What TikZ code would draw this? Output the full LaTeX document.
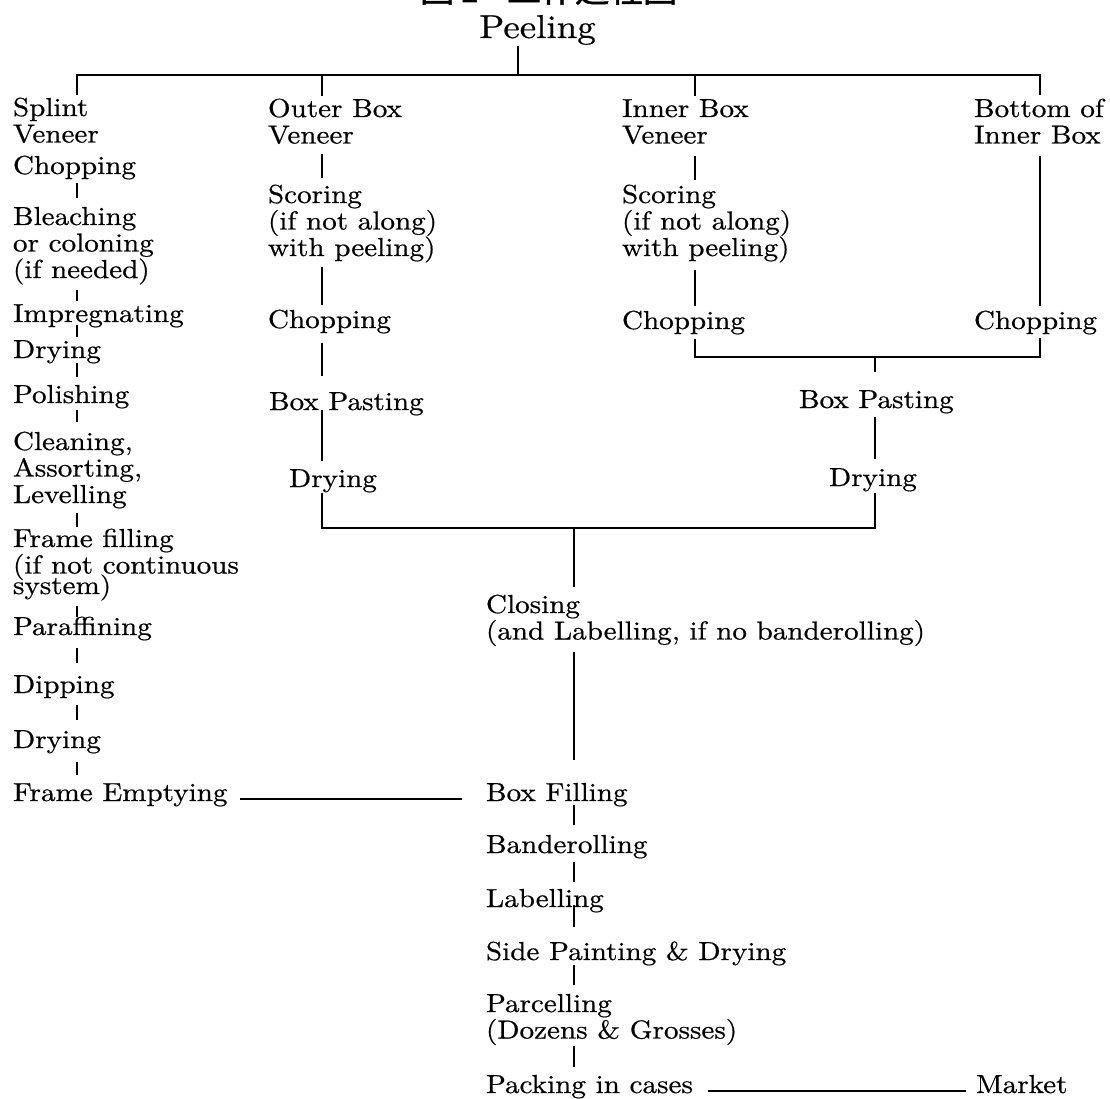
\documentclass[tikz,border=0pt]{standalone}
\usepackage{fontspec}
\setmainfont{lmroman10-regular.otf}[FakeStretch=1.12,FakeBold=0.6]
\newfontfamily\cjkfont{Noto Sans CJK TC}[FakeBold=1.5]
\newcommand{\myTwo}[2]{\vtop{\hbox{#1}\hbox{#2}}}
\newcommand{\myThree}[3]{\vtop{\hbox{#1}\hbox{#2}\hbox{#3}}}
\begin{document}
\begin{tikzpicture}[x=1pt,y=-1pt,
  lbl/.style={anchor=base west, inner sep=0pt, outer sep=0pt,
    font=\fontsize{26}{26.5}\selectfont},
  link/.style={line width=1.3pt, line cap=butt}]
\useasboundingbox (0,0) rectangle (1110,1099);
% x positions of vertical connectors and y positions of buses
\coordinate (lx) at (77,0);
\coordinate (ox) at (322,0);
\coordinate (ix) at (695,0);
\coordinate (bx) at (1040,0);
\coordinate (rx) at (875,0);
\coordinate (mx) at (574,0);
\coordinate (px) at (518,0);
\coordinate (bus1) at (0,75);
\coordinate (bus3) at (0,357);
\coordinate (bus2) at (0,528);
% title (cut off at top)
\node[anchor=base west, inner sep=0pt, font=\fontsize{34}{36}\cjkfont] (title) at (420,2) {圖\,1\;\,\, 工作過程圖};
\node[anchor=base west, inner sep=0pt, font=\fontsize{33}{36}\selectfont] (peel) at (479,38) {Peeling};
% left column
\node[lbl] (splint) at (13,116) {\myTwo{Splint}{Veneer}};
\node[lbl] (chopA) at (13,174) {Chopping};
\node[lbl] (bleach) at (13,225) {\myThree{Bleaching}{or coloning}{(if needed)}};
\node[lbl] (impreg) at (13,322) {Impregnating};
\node[lbl] (dryA) at (13,358) {Drying};
\node[lbl] (polish) at (13,403) {Polishing};
\node[lbl] (clean) at (13,450) {\myThree{Cleaning,}{Assorting,}{Levelling}};
\node[lbl] (frame) at (13,547) {\vtop{\hbox{Frame filling}\hbox{(if not continuous}\vskip-6pt\hbox{system)}}};
\node[lbl] (paraf) at (13,635) {Paraffining};
\node[lbl] (dip) at (13,693) {Dipping};
\node[lbl] (dryB) at (13,748) {Drying};
\node[lbl] (femp) at (13,801) {Frame Emptying};
% outer box column
\node[lbl] (outer) at (268,117) {\myTwo{Outer Box}{Veneer}};
\node[lbl] (scorA) at (268,203) {\myThree{Scoring}{(if not along)}{with peeling)}};
\node[lbl] (chopB) at (268,328) {Chopping};
\node[lbl] (pasteA) at (269,410) {Box Pasting};
\node[lbl] (dryC) at (289,487) {Drying};
% inner box column
\node[lbl] (inner) at (622,117) {\myTwo{Inner Box}{Veneer}};
\node[lbl] (scorB) at (622,203) {\myThree{Scoring}{(if not along)}{with peeling)}};
\node[lbl] (chopC) at (622,329) {Chopping};
\node[lbl] (bottom) at (974,117) {\myTwo{Bottom of}{Inner Box}};
\node[lbl] (chopD) at (974,329) {Chopping};
\node[lbl] (pasteB) at (799,408) {Box Pasting};
\node[lbl] (dryD) at (829,486) {Drying};
% middle column
\node[lbl] (closing) at (486,613) {\myTwo{Closing}{(and Labelling, if no banderolling)}};
\node[lbl] (boxfill) at (486,801) {Box Filling};
\node[lbl] (bander) at (486,853) {Banderolling};
\node[lbl] (label) at (486,907) {Labelling};
\node[lbl] (side) at (486,960) {Side Painting \& Drying};
\node[lbl] (parcel) at (486,1012) {\myTwo{Parcelling}{(Dozens \& Grosses)}};
\node[lbl] (pack) at (486,1093) {Packing in cases};
\node[lbl] (market) at (976,1093) {Market};
% top bus
\draw[link, shorten <=1pt] (peel.south -| px) -- (px |- bus1);
\draw[link, shorten <=3pt, shorten >=4pt] (splint.north -| lx) -- (lx |- bus1) -- (bx |- bus1) -- (bottom.north -| bx);
\draw[link, shorten >=3pt] (ox |- bus1) -- (outer.north -| ox);
\draw[link, shorten >=3pt] (ix |- bus1) -- (inner.north -| ix);
% left column ticks
\draw[link, shorten <=4pt, shorten >=9pt] (chopA.south -| lx) -- (bleach.north -| lx);
\draw[link, shorten <=5pt, shorten >=3pt] (bleach.south -| lx) -- (impreg.north -| lx);
\draw[link, shorten <=-2pt, shorten >=3pt] (impreg.south -| lx) -- (dryA.north -| lx);
\draw[link, shorten <=0pt, shorten >=8pt] (dryA.south -| lx) -- (polish.north -| lx);
\draw[link, shorten <=2pt, shorten >=10pt] (polish.south -| lx) -- (clean.north -| lx);
\draw[link, shorten <=5pt, shorten >=2pt] (clean.south -| lx) -- (frame.north -| lx);
\draw[link, shorten <=5pt, shorten >=0pt] (frame.south -| lx) -- (paraf.north -| lx);
\draw[link, shorten <=8pt, shorten >=12pt] (paraf.south -| lx) -- (dip.north -| lx);
\draw[link, shorten <=7pt, shorten >=10pt] (dip.south -| lx) -- (dryB.north -| lx);
\draw[link, shorten <=9pt, shorten >=8pt] (dryB.south -| lx) -- (femp.north -| lx);
\draw[link, shorten <=13pt, shorten >=24pt] (femp.mid east) -- (boxfill.mid west);
% outer box column
\draw[link, shorten <=10pt, shorten >=7pt] (outer.south -| ox) -- (scorA.north -| ox);
\draw[link, shorten <=4pt, shorten >=5pt] (scorA.south -| ox) -- (chopB.north -| ox);
\draw[link, shorten <=10pt, shorten >=16pt] (chopB.south -| ox) -- (pasteA.north -| ox);
\draw[link, shorten <=-5pt, shorten >=8pt] (pasteA.south -| ox) -- (dryC.north -| ox);
\draw[link, shorten <=1pt, shorten >=2pt] (dryC.south -| ox) -- (ox |- bus2) -- (rx |- bus2) -- (dryD.south -| rx);
% inner box columns
\draw[link, shorten <=12pt, shorten >=5pt] (inner.south -| ix) -- (scorB.north -| ix);
\draw[link, shorten <=7pt, shorten >=5pt] (scorB.south -| ix) -- (chopC.north -| ix);
\draw[link, shorten <=12pt, shorten >=5pt] (bottom.south -| bx) -- (chopD.north -| bx);
\draw[link, shorten <=5pt, shorten >=4pt] (chopC.south -| ix) -- (ix |- bus3) -- (bx |- bus3) -- (chopD.south -| bx);
\draw[link, shorten >=18pt] (rx |- bus3) -- (pasteB.north -| rx);
\draw[link, shorten <=4pt, shorten >=9pt] (pasteB.south -| rx) -- (dryD.north -| rx);
% middle column
\draw[link, shorten >=8pt] (mx |- bus2) -- (closing.north -| mx);
\draw[link, shorten <=6pt, shorten >=23pt] (closing.south -| mx) -- (boxfill.north -| mx);
\draw[link, shorten <=-1pt, shorten >=10pt] (boxfill.south -| mx) -- (bander.north -| mx);
\draw[link, shorten <=4pt, shorten >=7pt] (bander.south -| mx) -- (label.north -| mx);
\draw[link, shorten <=-7pt, shorten >=14pt] (label.south -| mx) -- (side.north -| mx);
\draw[link, shorten <=0pt, shorten >=9pt] (side.south -| mx) -- (parcel.north -| mx);
\draw[link, shorten <=1pt, shorten >=8pt] (parcel.south -| mx) -- (pack.north -| mx);
\draw[link, shorten <=15pt, shorten >=10pt] (pack.mid east) -- (market.mid west);
\end{tikzpicture}
\end{document}
